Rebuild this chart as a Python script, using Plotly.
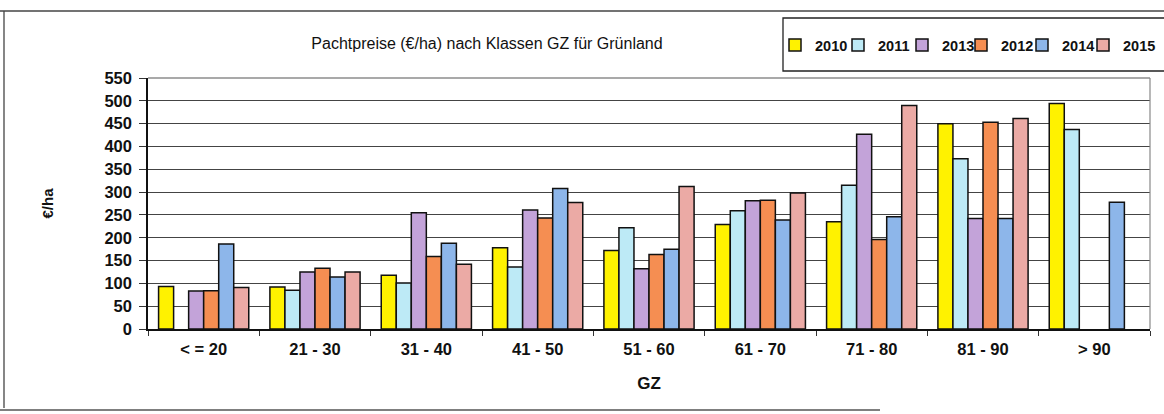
import plotly.graph_objects as go

categories = ["< = 20", "21 - 30", "31 - 40", "41 - 50", "51 - 60", "61 - 70", "71 - 80", "81 - 90", "> 90"]
series_names = ["2010", "2011", "2013", "2012", "2014", "2015"]
v2010 = [93, 92, 118, 178, 172, 229, 235, 450, 494]
v2011 = [None, 85, 101, 136, 222, 259, 315, 373, 437]
v2013 = [83, 125, 255, 261, 132, 281, 427, 242, None]
v2012 = [84, 133, 159, 243, 163, 282, 196, 453, None]
v2014 = [186, 114, 188, 308, 175, 239, 246, 242, 278]
v2015 = [91, 125, 142, 277, 312, 298, 490, 461, None]
y_ticks = [0, 50, 100, 150, 200, 250, 300, 350, 400, 450, 500, 550]

values = [v2010, v2011, v2013, v2012, v2014, v2015]
colors = ["#FFF200", "#BDEAF6", "#C3A3D9", "#F58E52", "#8DB6EA", "#EBAAA5"]

W, H = 1164, 414
ML, MR, MT, MB = 148, 14, 78, 85
PW, PH = W - ML - MR, H - MT - MB

FONT = "Liberation Sans, Arial, sans-serif"

# left edge (px) of each legend entry, in the legend row
legend_left = [775, 838, 902, 961, 1022, 1083]
legend_ids = ["legend", "legend2", "legend3", "legend4", "legend5", "legend6"]


def px(x):
    return (x - ML) / PW


def py(y):
    return (H - MB - y) / PH


fig = go.Figure()
for name, vals, col, lid in zip(series_names, values, colors, legend_ids):
    fig.add_trace(go.Bar(
        name=name, x=categories, y=vals, legend=lid,
        marker=dict(color=col, line=dict(color="#111111", width=1.5)),
    ))

legend_common = dict(
    orientation="h", xref="container", yref="container",
    xanchor="left", y=1 - 45 / H, yanchor="middle",
    font=dict(size=14.5, family=FONT, color="#111111", weight="bold"),
    bgcolor="rgba(0,0,0,0)", borderwidth=0, itemwidth=30,
)
legend_layouts = {lid: dict(legend_common, x=lx / W) for lid, lx in zip(legend_ids, legend_left)}

fig.update_layout(
    width=W, height=H,
    margin=dict(l=ML, r=MR, t=MT, b=MB, autoexpand=False),
    paper_bgcolor="white", plot_bgcolor="white",
    barmode="group", bargap=0.19, bargroupgap=0,
    font=dict(family=FONT, color="#111111"),
    title=dict(
        text="Pachtpreise (€/ha) nach Klassen GZ für Grünland",
        x=487 / W, xanchor="center", xref="container",
        y=1 - 43 / H, yanchor="middle", yref="container",
        font=dict(size=16, family=FONT, color="#111111"),
    ),
    showlegend=True,
    xaxis=dict(
        automargin=False,
        title=dict(text="GZ", font=dict(size=17, family=FONT, weight="bold"), standoff=21),
        tickfont=dict(size=16.5, family=FONT, weight="bold"),
        showline=True, linecolor="#111111", linewidth=1.5,
        ticks="outside", tickson="boundaries", ticklen=5, tickcolor="#333333",
        ticklabelstandoff=4,
        showgrid=False,
    ),
    yaxis=dict(
        automargin=False,
        title=dict(text="€/ha", font=dict(size=15, family=FONT, weight="bold"), standoff=47),
        tickfont=dict(size=16.5, family=FONT, weight="bold"),
        range=[0, 550], tickvals=y_ticks, ticktext=[str(t) for t in y_ticks],
        showline=True, linecolor="#111111", linewidth=1.5,
        ticks="outside", ticklen=7, tickcolor="#333333",
        ticklabelstandoff=4,
        showgrid=True, gridcolor="#444444", gridwidth=1,
        zeroline=False,
    ),
    shapes=[
        # plot-area border (top & right)
        dict(type="line", xref="paper", yref="paper", x0=0, x1=1, y0=1, y1=1, line=dict(color="#555555", width=1.2)),
        dict(type="line", xref="paper", yref="paper", x0=1, x1=1, y0=0, y1=1, line=dict(color="#888888", width=1.2)),
        # legend box
        dict(type="rect", xref="paper", yref="paper", x0=px(783), x1=px(1175), y0=py(71), y1=py(18),
             line=dict(color="#222222", width=1.3)),
        # outer frame
        dict(type="line", xref="paper", yref="paper", x0=px(0), x1=px(1164), y0=py(11), y1=py(11), line=dict(color="#444444", width=1.3)),
        dict(type="line", xref="paper", yref="paper", x0=px(4), x1=px(4), y0=py(11), y1=py(408), line=dict(color="#444444", width=1.3)),
        dict(type="line", xref="paper", yref="paper", x0=px(0), x1=px(880), y0=py(410), y1=py(410), line=dict(color="#555555", width=1.5)),
    ],
)
fig.update_layout(**legend_layouts)

fig.write_html(
    "out.html",
    config={"displayModeBar": False},
    post_script="document.body.style.margin='0';",
)
